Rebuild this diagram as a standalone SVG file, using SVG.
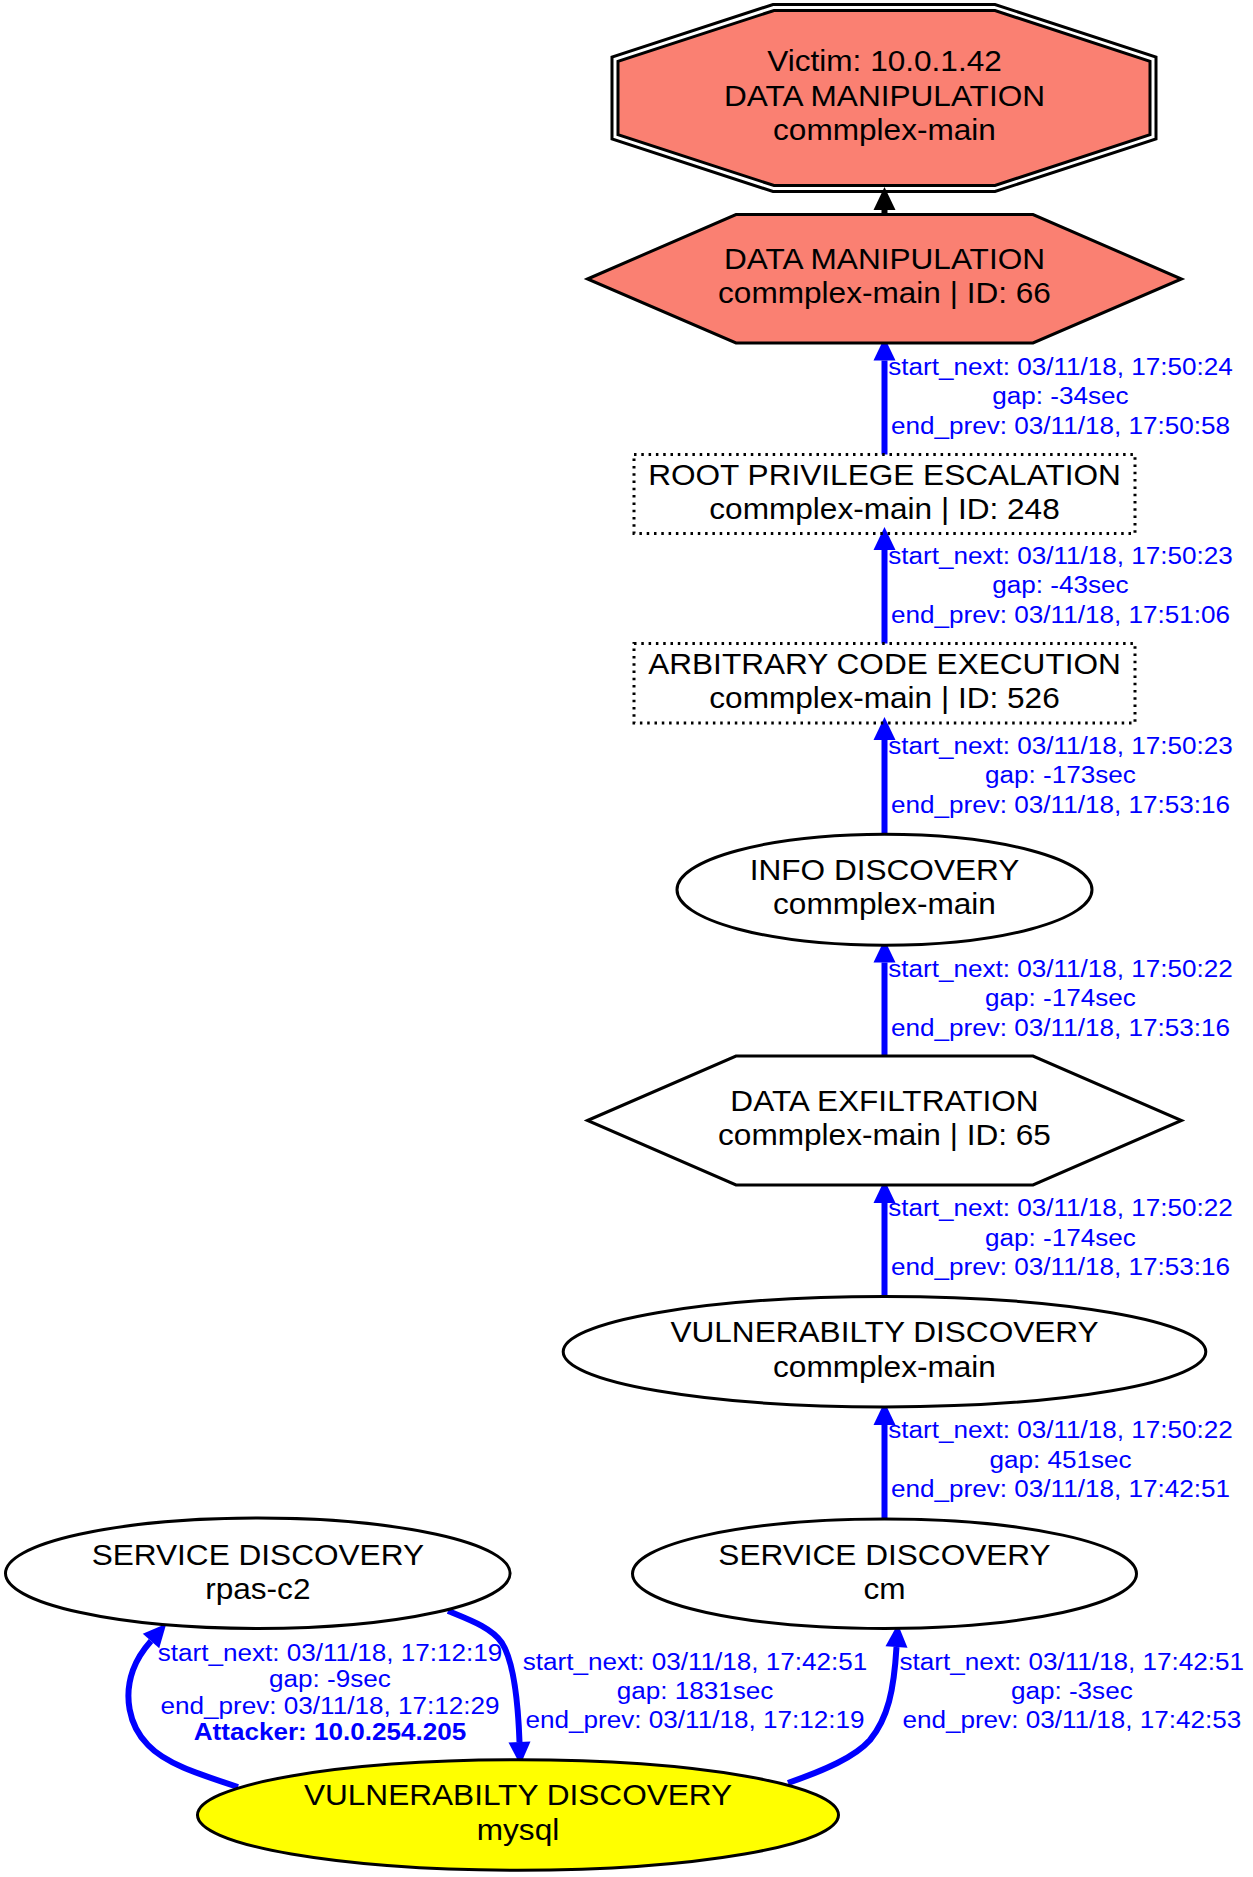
<svg xmlns="http://www.w3.org/2000/svg" width="1253" height="1877" viewBox="0 0 1253 1877">
<style>
.nt{font-family:"Liberation Sans",Arial,sans-serif;font-size:30px;fill:#000;text-anchor:middle}
.lt{font-family:"Liberation Sans",Arial,sans-serif;font-size:24.5px;fill:#0000ff;text-anchor:middle}
.bold{font-weight:bold}
.shape{stroke:#000;stroke-width:3;fill:#fff}
.salmon{fill:#fa8072}
.outline{fill:none;stroke:#000;stroke-width:3}
.dot{fill:none;stroke:#000;stroke-width:3;stroke-dasharray:2.5 4.8}
.e{fill:none;stroke:#0000ff;stroke-width:6}
.ek{fill:none;stroke:#000;stroke-width:6}
</style>
<defs>
<marker id="ab" markerUnits="userSpaceOnUse" markerWidth="24" markerHeight="22" refX="0" refY="11" orient="auto" overflow="visible">
<path d="M0,0 L23,11 L0,22 z" fill="#0000ff"/>
</marker>
<marker id="ak" markerUnits="userSpaceOnUse" markerWidth="24" markerHeight="22" refX="0" refY="11" orient="auto" overflow="visible">
<path d="M0,0 L23,11 L0,22 z" fill="#000"/>
</marker>
</defs>
<rect width="1253" height="1877" fill="#fff"/>

<g id="connectors">
<path class="ek" d="M884.5,214.5 L884.5,210" marker-end="url(#ak)"/>
<path class="e" d="M884.5,454.5 L884.5,360.5" marker-end="url(#ab)"/>
<path class="e" d="M884.5,643.5 L884.5,550" marker-end="url(#ab)"/>
<path class="e" d="M884.5,834 L884.5,740" marker-end="url(#ab)"/>
<path class="e" d="M884.5,1056 L884.5,962.5" marker-end="url(#ab)"/>
<path class="e" d="M884.5,1296.5 L884.5,1203" marker-end="url(#ab)"/>
<path class="e" d="M884.5,1519 L884.5,1425" marker-end="url(#ab)"/>
<path class="e" d="M788,1783 C825,1770 855,1757 870,1740 C888,1718 894,1690 896.5,1647" marker-end="url(#ab)"/>
<path class="e" d="M238,1787 C195,1773 165,1763 148,1745 C128,1725 124,1695 133,1670 C137,1659 143,1650 151,1641" marker-end="url(#ab)"/>
<path class="e" d="M448,1611 C470,1620 492,1628 502,1643 C514,1662 518,1700 519.5,1742" marker-end="url(#ab)"/>

<g transform="translate(1060.5 0) scale(1.065 1)">
<text class="lt" x="0" y="375">start_next: 03/11/18, 17:50:24</text>
<text class="lt" x="0" y="404.3">gap: -34sec</text>
<text class="lt" x="0" y="433.6">end_prev: 03/11/18, 17:50:58</text>
<text class="lt" x="0" y="564">start_next: 03/11/18, 17:50:23</text>
<text class="lt" x="0" y="593.3">gap: -43sec</text>
<text class="lt" x="0" y="622.6">end_prev: 03/11/18, 17:51:06</text>
<text class="lt" x="0" y="754">start_next: 03/11/18, 17:50:23</text>
<text class="lt" x="0" y="783.3">gap: -173sec</text>
<text class="lt" x="0" y="812.6">end_prev: 03/11/18, 17:53:16</text>
<text class="lt" x="0" y="977">start_next: 03/11/18, 17:50:22</text>
<text class="lt" x="0" y="1006.3">gap: -174sec</text>
<text class="lt" x="0" y="1035.6">end_prev: 03/11/18, 17:53:16</text>
<text class="lt" x="0" y="1216.5">start_next: 03/11/18, 17:50:22</text>
<text class="lt" x="0" y="1245.8">gap: -174sec</text>
<text class="lt" x="0" y="1275.1">end_prev: 03/11/18, 17:53:16</text>
<text class="lt" x="0" y="1438.3">start_next: 03/11/18, 17:50:22</text>
<text class="lt" x="0" y="1467.6">gap: 451sec</text>
<text class="lt" x="0" y="1497">end_prev: 03/11/18, 17:42:51</text>
</g>
<g transform="translate(1071.8 0) scale(1.065 1)">
<text class="lt" x="0" y="1670.5">start_next: 03/11/18, 17:42:51</text>
<text class="lt" x="0" y="1699.5">gap: -3sec</text>
<text class="lt" x="0" y="1728.5">end_prev: 03/11/18, 17:42:53</text>
</g>
<g transform="translate(695 0) scale(1.065 1)">
<text class="lt" x="0" y="1670.5">start_next: 03/11/18, 17:42:51</text>
<text class="lt" x="0" y="1699.5">gap: 1831sec</text>
<text class="lt" x="0" y="1728.5">end_prev: 03/11/18, 17:12:19</text>
</g>
<g transform="translate(330 0) scale(1.065 1)">
<text class="lt" x="0" y="1661.5">start_next: 03/11/18, 17:12:19</text>
<text class="lt" x="0" y="1687.5">gap: -9sec</text>
<text class="lt" x="0" y="1714">end_prev: 03/11/18, 17:12:29</text>
<text class="lt bold" x="0" y="1740.5">Attacker: 10.0.254.205</text>
</g>
</g>

<g id="victim">
<polygon class="outline" points="773,4.5 995,4.5 1156,57 1156,139 995,191.5 773,191.5 612,139 612,57"/>
<polygon class="shape salmon" points="774,10.5 995,10.5 1150,61.4 1150,134.6 995,185.5 774,185.5 618,134.6 618,61.4"/>
<g transform="translate(884.5 0) scale(1.053 1)">
<text class="nt" x="0" y="71.5">Victim: 10.0.1.42</text>
<text class="nt" x="0" y="106">DATA MANIPULATION</text>
<text class="nt" x="0" y="140.5">commplex-main</text>
</g>
</g>

<g id="data_manipulation">
<polygon class="shape salmon" points="587.5,279 736,214.5 1033,214.5 1181.5,279 1033,343 736,343"/>
<g transform="translate(884.5 0) scale(1.053 1)">
<text class="nt" x="0" y="269.5">DATA MANIPULATION</text>
<text class="nt" x="0" y="303.5">commplex-main | ID: 66</text>
</g>
</g>

<g id="root_priv">
<rect class="dot" x="634" y="454.5" width="501" height="79"/>
<g transform="translate(884.5 0) scale(1.053 1)">
<text class="nt" x="0" y="485">ROOT PRIVILEGE ESCALATION</text>
<text class="nt" x="0" y="519.5">commplex-main | ID: 248</text>
</g>
</g>

<g id="arbitrary_code">
<rect class="dot" x="634" y="643.5" width="501" height="79.5"/>
<g transform="translate(884.5 0) scale(1.053 1)">
<text class="nt" x="0" y="674">ARBITRARY CODE EXECUTION</text>
<text class="nt" x="0" y="708.5">commplex-main | ID: 526</text>
</g>
</g>

<g id="info_discovery">
<ellipse class="shape" cx="884.5" cy="889.7" rx="207.5" ry="55.5"/>
<g transform="translate(884.5 0) scale(1.053 1)">
<text class="nt" x="0" y="880">INFO DISCOVERY</text>
<text class="nt" x="0" y="914.5">commplex-main</text>
</g>
</g>

<g id="data_exfiltration">
<polygon class="shape" points="587.5,1120.5 736,1056 1033,1056 1181.5,1120.5 1033,1185 736,1185"/>
<g transform="translate(884.5 0) scale(1.053 1)">
<text class="nt" x="0" y="1111">DATA EXFILTRATION</text>
<text class="nt" x="0" y="1145">commplex-main | ID: 65</text>
</g>
</g>

<g id="vuln_main">
<ellipse class="shape" cx="884.5" cy="1351.7" rx="321.3" ry="55.2"/>
<g transform="translate(884.5 0) scale(1.053 1)">
<text class="nt" x="0" y="1342.3">VULNERABILTY DISCOVERY</text>
<text class="nt" x="0" y="1376.7">commplex-main</text>
</g>
</g>

<g id="service_cm">
<ellipse class="shape" cx="884.5" cy="1573.8" rx="252" ry="54.7"/>
<g transform="translate(884.5 0) scale(1.053 1)">
<text class="nt" x="0" y="1565">SERVICE DISCOVERY</text>
<text class="nt" x="0" y="1599.3">cm</text>
</g>
</g>

<g id="service_rpas">
<ellipse class="shape" cx="257.8" cy="1573.3" rx="252.3" ry="55.2"/>
<g transform="translate(257.8 0) scale(1.053 1)">
<text class="nt" x="0" y="1565">SERVICE DISCOVERY</text>
<text class="nt" x="0" y="1599.3">rpas-c2</text>
</g>
</g>

<g id="vuln_mysql">
<ellipse class="shape" cx="518" cy="1815" rx="320.5" ry="55.2" style="fill:#ffff00"/>
<g transform="translate(518 0) scale(1.053 1)">
<text class="nt" x="0" y="1805.5">VULNERABILTY DISCOVERY</text>
<text class="nt" x="0" y="1840">mysql</text>
</g>
</g>
</svg>
